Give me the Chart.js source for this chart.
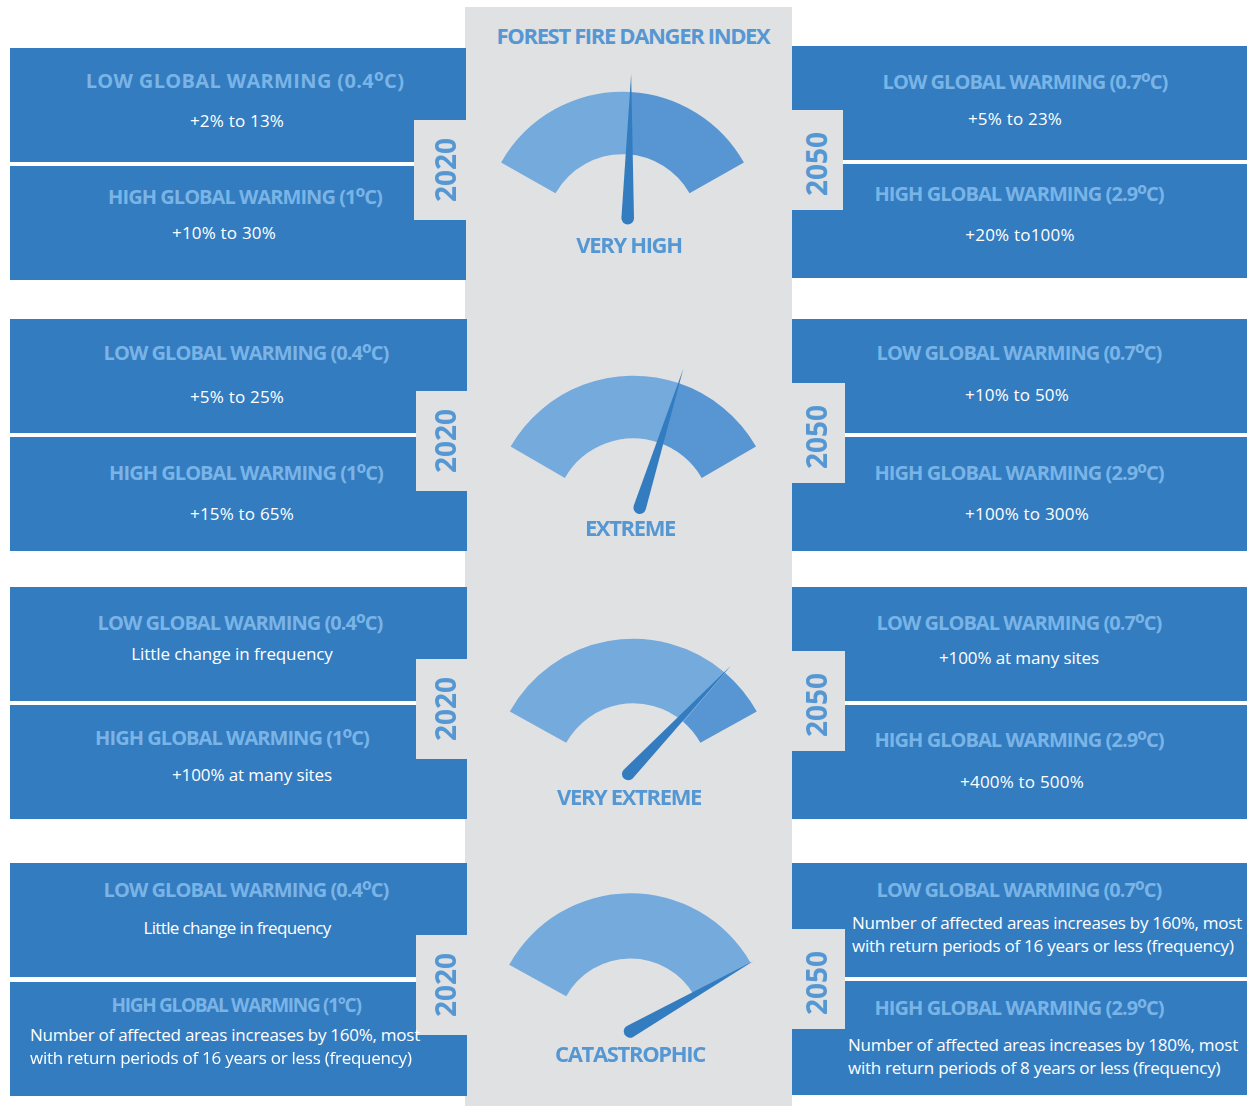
<!DOCTYPE html>
<html>
<head>
<meta charset="utf-8">
<script src="https://cdn.jsdelivr.net/npm/chart.js@4"></script>
<style>
  html, body { margin: 0; padding: 0; background: #fff; }
  #page { position: relative; width: 1247px; height: 1106px; overflow: hidden; font-family: "Open Sans", sans-serif; }
  .box { position: absolute; }
  .blue { background: #337cc0; }
  .grey { background: #e0e1e3; }
  .txt { position: absolute; white-space: nowrap; transform: translate(-50%, calc(-50% - 1px)); }
  .head { font-size: 20px; font-weight: 700; color: #7ab4e6; letter-spacing: -0.95px; }
  .head .deg { font-size: 1.25em; line-height: 0; position: relative; top: 2px; }
  .body { font-size: 17px; color: #fff; letter-spacing: -0.1px; }
  .range { letter-spacing: 0.2px; }
  .long { letter-spacing: -0.25px; transform: translate(0, calc(-50% - 1px)); }
  .level { font-size: 22px; font-weight: 700; color: #5597d3; letter-spacing: -1.35px; }
  .year { font-size: 28px; font-weight: 700; color: #5597d3; transform: translate(-50%, -50%) rotate(-90deg); }
  canvas { position: absolute; }
</style>
</head>
<body>
<div id="page"></div>
<script>
// gauges, top to bottom
const indexTitle = "FOREST FIRE DANGER INDEX";
const dangerLevels = ["VERY HIGH", "EXTREME", "VERY EXTREME", "CATASTROPHIC"];
const needleValues = [52.6, 65.5, 83.2, 100];
const restValues = [47.4, 34.5, 16.8, 0];

const years = ["2020", "2050"];
const low2020Head = ["LOW GLOBAL WARMING (0.4ºC)", "LOW GLOBAL WARMING (0.4ºC)", "LOW GLOBAL WARMING (0.4ºC)", "LOW GLOBAL WARMING (0.4ºC)"];
const high2020Head = ["HIGH GLOBAL WARMING (1ºC)", "HIGH GLOBAL WARMING (1ºC)", "HIGH GLOBAL WARMING (1ºC)", "HIGH GLOBAL WARMING (1°C)"];
const low2050Head = ["LOW GLOBAL WARMING (0.7ºC)", "LOW GLOBAL WARMING (0.7ºC)", "LOW GLOBAL WARMING (0.7ºC)", "LOW GLOBAL WARMING (0.7ºC)"];
const high2050Head = ["HIGH GLOBAL WARMING (2.9ºC)", "HIGH GLOBAL WARMING (2.9ºC)", "HIGH GLOBAL WARMING (2.9ºC)", "HIGH GLOBAL WARMING (2.9ºC)"];

const low2020 = ["+2% to 13%", "+5% to 25%", "Little change in frequency", "Little change in frequency"];
const high2020 = ["+10% to 30%", "+15% to 65%", "+100% at many sites",
  ["Number of affected areas increases by 160%, most", "with return periods of 16 years or less (frequency)"]];
const low2050 = ["+5% to 23%", "+10% to 50%", "+100% at many sites",
  ["Number of affected areas increases by 160%, most", "with return periods of 16 years or less (frequency)"]];
const high2050 = ["+20% to100%", "+100% to 300%", "+400% to 500%",
  ["Number of affected areas increases by 180%, most", "with return periods of 8 years or less (frequency)"]];

// layout per row
const leftBoxes = [[48, 166], [319, 437], [587, 705], [863, 982]];
const rightBoxes = [[46, 164], [319, 437], [587, 705], [863, 981]];
const leftTabs = [[414, 120], [416, 391], [416, 659], [416, 935]];
const rightTabs = [[843, 110], [845, 383], [845, 651], [845, 929]];
const yearY = [[170, 164], [441, 437], [709, 705], [985, 983]];
const levelPos = [[629, 245], [630, 528], [629, 797], [630, 1054]];
// x,y of heading / body text: low 2020, high 2020, low 2050, high 2050
const textPos = [
  [[245, 81, 237, 121], [245, 197, 224, 233], [1025, 82, 1015, 119], [1019, 194, 1020, 235]],
  [[246, 353, 237, 397], [246, 473, 242, 514], [1019, 353, 1017, 395], [1019, 473, 1027, 514]],
  [[240, 623, 232, 654], [232, 738, 252, 775], [1019, 623, 1019, 658], [1019, 740, 1022, 782]],
  [[246, 890, 237, 928], [236, 1006, 30, 1035], [1019, 890, 852, 923], [1019, 1008, 848, 1045]]
];
// gauge centre, radii, needle length, pivot offset from centre, start/end half angles
const gaugeGeo = [
  { cx: 622.5, cy: 231.2, R: 139.5, r: 77, tip: 157.5, px: 5.2, py: -13, a0: 60.5, a1: 60.5 },
  { cx: 633.3, cy: 517.4, R: 141.7, r: 79, tip: 157, px: 6.4, py: -9.7, a0: 60, a1: 60 },
  { cx: 633.3, cy: 780, R: 141.2, r: 76.7, tip: 150.6, px: -5, py: -6, a0: 61, a1: 61 },
  { cx: 630.5, cy: 1032, R: 138.7, r: 73.5, tip: 142, px: -0.5, py: -0.5, a0: 61, a1: 60 }
];

const page = document.getElementById("page");

function box(cls, x, y, w, h) {
  const d = document.createElement("div");
  d.className = "box " + cls;
  d.style.cssText = `left:${x}px;top:${y}px;width:${w}px;height:${h}px`;
  page.appendChild(d);
}

function text(cls, str, x, y) {
  const d = document.createElement("div");
  d.className = "txt " + cls;
  d.textContent = str;
  d.style.left = x + "px";
  d.style.top = y + "px";
  page.appendChild(d);
  return d;
}

function heading(str, x, y) {
  const d = text("head", "", x, y);
  d.innerHTML = str.replace("º", '<span class="deg">º</span>');
  return d;
}

function bodyText(str, x, y) {
  if (Array.isArray(str)) {
    str.forEach((line, i) => text("body long", line, x, y + i * 23));
    return null;
  }
  return text(str.includes(" to") ? "body range" : "body", str, x, y);
}

const rad = Math.PI / 180;

// grey column under the panels, tabs on top, text last
box("grey", 465, 7, 327, 1099);
leftBoxes.forEach((b, i) => {
  const w = i == 0 ? 456 : 457;
  box("blue", 10, b[0], w, 114);
  box("blue", 10, b[1], w, 114);
});
rightBoxes.forEach(b => { box("blue", 792, b[0], 455, 114); box("blue", 792, b[1], 455, 114); });
leftTabs.forEach(t => box("grey", t[0], t[1], 467 - t[0], 100));
rightTabs.forEach(t => box("grey", 792, t[1], t[0] - 792, 100));

text("level", indexTitle, 633, 36);

const needle = {
  id: "needle",
  afterDatasetsDraw(chart, args, opts) {
    const arc = chart.getDatasetMeta(0).data[0];
    const px = arc.x + opts.px, py = arc.y + opts.py;
    const tx = arc.x + Math.cos(arc.endAngle) * opts.tip;
    const ty = arc.y + Math.sin(arc.endAngle) * opts.tip;
    const a = Math.atan2(ty - py, tx - px);
    const ctx = chart.ctx;
    ctx.save();
    ctx.fillStyle = "#337cc0";
    ctx.beginPath();
    ctx.arc(px, py, 6.3, a + Math.PI / 2, a - Math.PI / 2);
    ctx.lineTo(tx, ty);
    ctx.closePath();
    ctx.fill();
    ctx.restore();
  }
};

dangerLevels.forEach((name, i) => {
  const g = gaugeGeo[i];
  const cv = document.createElement("canvas");
  const halfW = 170, above = 170, h = 200;
  const left = Math.round(g.cx) - halfW, top = Math.round(g.cy) - above;
  const dx = g.cx - Math.round(g.cx), dy = g.cy - Math.round(g.cy);
  cv.width = halfW * 2;
  cv.height = h;
  cv.style.left = left + "px";
  cv.style.top = top + "px";
  page.appendChild(cv);
  new Chart(cv, {
    type: "doughnut",
    data: {
      labels: [name, ""],
      datasets: [{
        data: [needleValues[i], restValues[i]],
        backgroundColor: ["#74aadc", "#5796d3"],
        borderWidth: 0
      }]
    },
    options: {
      responsive: false,
      maintainAspectRatio: false,
      animation: false,
      rotation: -g.a0,
      circumference: g.a0 + g.a1,
      radius: g.R,
      cutout: (g.r / g.R * 100) + "%",
      layout: {
        padding: {
          left: halfW + dx - g.R * Math.sin(g.a0 * rad),
          right: halfW - dx - g.R * Math.sin(g.a1 * rad),
          top: above + dy - g.R,
          bottom: h - above - dy + g.r * Math.cos(Math.max(g.a0, g.a1) * rad)
        }
      },
      plugins: {
        legend: { display: false },
        tooltip: { enabled: false },
        needle: { px: g.px, py: g.py, tip: g.tip }
      }
    },
    plugins: [needle]
  });

  text("level", name, levelPos[i][0], levelPos[i][1]);
  text("year", years[0], 445, yearY[i][0]);
  text("year", years[1], 816, yearY[i][1]);

  const p = textPos[i];
  const lowHead = heading(low2020Head[i], p[0][0], p[0][1]);
  const lowBody = bodyText(low2020[i], p[0][2], p[0][3]);
  const highHead = heading(high2020Head[i], p[1][0], p[1][1]);
  bodyText(high2020[i], p[1][2], p[1][3]);
  heading(low2050Head[i], p[2][0], p[2][1]);
  bodyText(low2050[i], p[2][2], p[2][3]);
  heading(high2050Head[i], p[3][0], p[3][1]);
  bodyText(high2050[i], p[3][2], p[3][3]);

  // these runs are set wider or tighter in the original
  if (i == 0) lowHead.style.letterSpacing = "0.35px";
  if (i == 3) {
    lowBody.style.letterSpacing = "-0.65px";
    highHead.style.letterSpacing = "-1.3px";
    highHead.style.fontSize = "19px";
  }
});
</script>
</body>
</html>
